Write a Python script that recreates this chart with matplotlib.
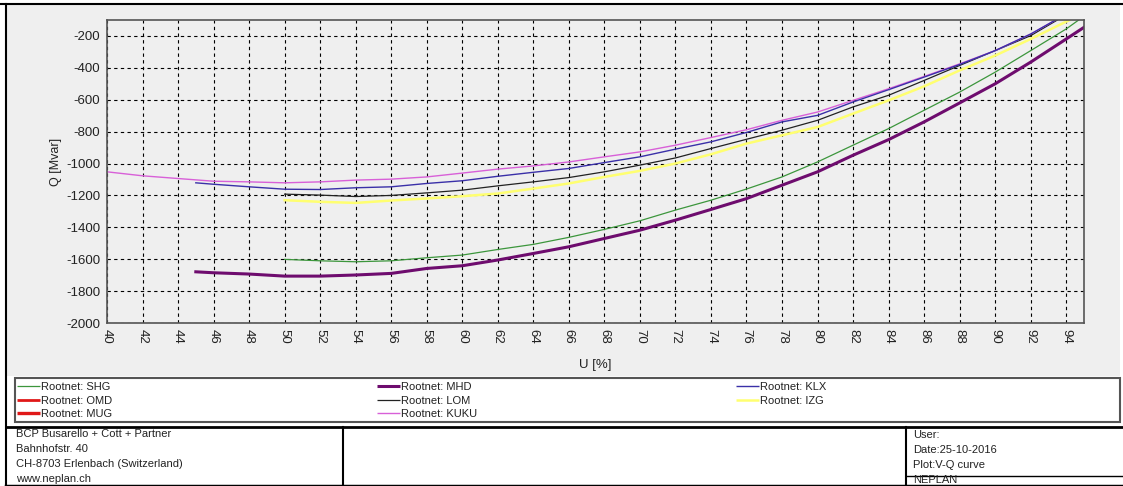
import numpy as np
import matplotlib
matplotlib.use("Agg")
import matplotlib.pyplot as plt
from matplotlib.patches import Rectangle

plt.rcParams['font.family'] = ['Liberation Sans', 'DejaVu Sans']
plt.rcParams['axes.unicode_minus'] = False

W, H = 1123, 486

# V-Q curves, U [%] vs Q [Mvar]
shg_u = [50, 52, 54, 56, 58, 60, 62, 64, 66, 68, 70, 72, 74, 76, 78, 80, 82, 84, 86, 88, 90, 92, 94, 94.7]
shg_q = [-1601, -1610, -1616, -1610, -1591, -1574, -1539, -1507, -1463, -1413, -1359, -1292, -1230,
         -1160, -1084, -990, -885, -781, -666, -552, -427, -292, -156, -100]

mhd_u = [45, 46, 48, 50, 52, 54, 56, 58, 60, 62, 64, 66, 68, 70, 72, 74, 76, 78, 80, 82, 84, 86, 88, 90, 92, 94, 95]
mhd_q = [-1679, -1685, -1693, -1706, -1706, -1699, -1689, -1658, -1641, -1605, -1564, -1522, -1470, -1418,
         -1355, -1288, -1220, -1136, -1052, -948, -850, -739, -620, -500, -364, -219, -146]

klx_u = [45, 46, 48, 50, 52, 54, 56, 58, 60, 62, 64, 66, 68, 70, 72, 74, 76, 78, 80, 82, 84, 86, 88, 90, 92, 93.4]
klx_q = [-1121, -1130, -1146, -1161, -1163, -1152, -1146, -1125, -1108, -1080, -1055, -1031, -994, -958,
         -910, -864, -805, -739, -698, -614, -537, -458, -379, -292, -188, -100]

lom_u = [50, 52, 54, 56, 58, 60, 62, 64, 66, 68, 70, 72, 74, 76, 78, 80, 82, 84, 86, 88, 90, 92, 93.5]
lom_q = [-1192, -1198, -1207, -1200, -1184, -1167, -1140, -1115, -1088, -1052, -1010, -965, -906,
         -848, -791, -729, -645, -572, -479, -385, -292, -198, -100]

izg_u = [50, 52, 54, 56, 58, 60, 62, 64, 66, 68, 70, 72, 74, 76, 78, 80, 82, 84, 86, 88, 90, 92, 94, 94.2]
izg_q = [-1230, -1240, -1247, -1232, -1219, -1205, -1188, -1157, -1125, -1084, -1046, -1000, -942,
         -875, -823, -771, -687, -604, -516, -416, -323, -219, -110, -100]

kuku_u = [40, 42, 44, 46, 48, 50, 52, 54, 56, 58, 60, 62, 64, 66, 68, 70, 72, 74, 76, 78, 80, 82, 84, 86, 88, 90, 92, 93.4]
kuku_q = [-1052, -1077, -1094, -1111, -1115, -1121, -1115, -1104, -1098, -1084, -1060, -1035, -1015, -990,
          -958, -927, -885, -837, -788, -729, -677, -604, -531, -454, -375, -292, -188, -100]

# OMD and MUG appear only in the legend
names = ["SHG", "OMD", "MUG", "MHD", "LOM", "KUKU", "KLX", "IZG"]
data = {"SHG": (shg_u, shg_q), "MHD": (mhd_u, mhd_q), "KLX": (klx_u, klx_q),
        "LOM": (lom_u, lom_q), "IZG": (izg_u, izg_q), "KUKU": (kuku_u, kuku_q)}
styles = {
    "SHG": dict(color="#3c963c", lw=0.9),
    "OMD": dict(color="#e01818", lw=2.0),
    "MUG": dict(color="#e01818", lw=2.4),
    "MHD": dict(color="#6e0c6e", lw=2.2),
    "LOM": dict(color="#222222", lw=0.9),
    "KUKU": dict(color="#d860d8", lw=1.0),
    "KLX": dict(color="#3a30a8", lw=1.0),
    "IZG": dict(color="#ffff70", lw=1.8),
}
draw_order = ["IZG", "SHG", "LOM", "KUKU", "KLX", "MHD"]

left_lines = ["BCP Busarello + Cott + Partner", "Bahnhofstr. 40",
              "CH-8703 Erlenbach (Switzerland)", "www.neplan.ch"]
right_lines = ["User:", "Date:25-10-2016", "Plot:V-Q curve", "NEPLAN"]

fig = plt.figure(figsize=(W / 100, H / 100), dpi=100, facecolor="white")

# page decoration (frame, legend box, title block) in pixel coords
deco = fig.add_axes([0, 0, 1, 1], zorder=0)
deco.set_xlim(0, W)
deco.set_ylim(H, 0)
deco.axis("off")
deco.add_patch(Rectangle((6, 5), 1114, 371, facecolor="#efefef", edgecolor="none"))
deco.plot([0, W], [4.5, 4.5], color="black", lw=1.5)
deco.plot([6, 6], [4.5, 485], color="black", lw=1.5)

deco.add_patch(Rectangle((15, 377.5), 1105, 44.5, facecolor="white", edgecolor="#555555", lw=1.5))
col_x = [17, 377, 736]
row_y = [385.5, 399.5, 413]
for i, name in enumerate(names):
    cx, ry = col_x[i // 3], row_y[i % 3]
    deco.plot([cx, cx + 23], [ry, ry], solid_capstyle="butt", **styles[name])
    deco.text(cx + 24, ry + 4, "Rootnet: " + name, fontsize=8, va="baseline", ha="left", color="#222222")

deco.plot([6, W], [426.5, 426.5], color="black", lw=2)
deco.plot([6, W], [485.5, 485.5], color="black", lw=2.5)
deco.plot([343, 343], [426.5, 485], color="black", lw=1.5)
deco.plot([906, 906], [426.5, 485], color="black", lw=1.5)
deco.plot([906, W], [475.5, 475.5], color="black", lw=1)
for i, s in enumerate(left_lines):
    deco.text(16, 436.5 + 15.2 * i, s, fontsize=8, va="baseline", ha="left", color="#222222")
for i, s in enumerate(right_lines):
    deco.text(913, 437.5 + 15.2 * i, s, fontsize=8, va="baseline", ha="left", color="#222222",
              clip_on=True)

# chart
ax = fig.add_axes([107 / W, (H - 323) / H, 977 / W, 303 / H], zorder=1)
ax.set_facecolor("#efefef")
for name in draw_order:
    u, q = data[name]
    ax.plot(u, q, **styles[name])

ax.set_xlim(40, 95)
ax.set_ylim(-2000, -100)
ax.set_xticks(np.arange(40, 95, 2))
ax.set_yticks(np.arange(-2000, -199, 200))
ax.grid(True, color="black", linestyle=(0, (3, 3)), linewidth=0.8)
ax.tick_params(axis="both", length=0, labelsize=9.5, colors="#222222")
ax.tick_params(axis="x", labelrotation=270, pad=4)
ax.tick_params(axis="y", pad=5)
for sp in ax.spines.values():
    sp.set_color("#555555")
    sp.set_linewidth(1.2)

ax.set_xlabel("U [%]", fontsize=9.5, color="#222222")
ax.set_ylabel("Q [Mvar]", fontsize=9, color="#222222")
ax.xaxis.set_label_coords(0.4995, -0.119)
ax.yaxis.set_label_coords(-0.046, 0.53)

fig.savefig("out.png", dpi=100, facecolor="white")
